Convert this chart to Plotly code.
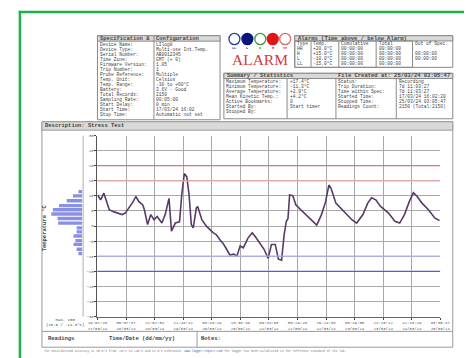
import pandas as pd
import plotly.graph_objects as go

W, H = 472, 358
PAGE_OFFSET = 8  # the page body margin shifts the figure by 8 px

# ---- data ----
start_time = "2024-03-17 16:02:20"
stop_time = "2024-03-25 03:05:47"

hours = [0, 1.65, 3.35, 6.15, 8.65, 12.85, 14.5, 17.0, 18.65, 20.0, 21.65, 23.65,
         24.5, 26.15, 27.85, 29.5, 31.15, 33.65, 35.35, 37.35, 38.65, 40.65, 42.85,
         44.0, 45.35, 46.65, 47.85, 49.0, 50.0, 51.65, 52.35, 54.5, 57.0, 60.35,
         62.0, 64.5, 65.35, 67.0, 69.15, 71.15, 72.85, 74.5, 76.15, 78.65, 80.85,
         82.85, 84.5, 87.0, 89.15, 90.85, 92.85, 94.5, 96.15, 97.5, 98.65, 99.5,
         100.35, 102.0, 103.65, 106.15, 109.5, 114.5, 117.0, 119.15, 120.85, 122.0,
         124.5, 127.0, 129.5, 132.85, 135.35, 138.65, 141.15, 143.15, 145.35,
         147.85, 152.0, 155.35, 157.85, 160.35, 162.85, 165.0, 167.0, 169.5,
         172.85, 176.15, 178.65]
temps = [10.3, 8.7, 10.9, 5.4, 4.7, 3.8, 4.3, 6.5, 8.1, 9.8, 8.1, 7.0,
         5.4, 0.5, 3.8, 2.1, 3.2, 1.0, 3.8, 9.2, -1.7, 1.0, 1.4,
         10.3, 17.4, 16.3, 10.3, 0.5, -0.6, 6.0, 6.5, 2.1, -0.1, -2.2,
         -2.8, -5.0, -5.5, -7.2, -9.6, -9.3, -9.9, -6.6, -7.2, -3.9, -2.2,
         -3.9, -5.5, -7.7, -10.7, -6.1, -6.1, -11.0, -11.3, -2.8, 1.6, 2.5,
         10.3, 10.1, 7.0, 5.4, 3.2, 0.3, 3.8, 8.1, 13.6, 12.5,
         7.6, 6.0, 4.3, 2.1, 1.0, 3.8, 7.6, 9.4, 8.7,
         6.5, 4.3, 1.6, 1.0, 3.8, 8.1, 11.1, 9.8, 7.6,
         5.4, 2.7, 1.8]

hist_bins = [11.4, 10.0, 8.4, 6.8, 5.4, 4.0, 2.5, 1.0, -0.6, -1.9, -3.3, -4.8, -6.1, -7.7, -9.1]
hist_counts = [12, 30, 50, 75, 95, 100, 80, 78, 18, 18, 28, 22, 28, 18, 12]

temp_ticks = [30, 25, 20, 15, 10, 5, 0, -5, -10, -15, -20, -25, -30]
alarm_levels = {"HH": 20, "H": 15, "L": -10, "LL": -15}

spec_labels = ["Device Name:", "Device Type:", "Serial Number:", "Time Zone:",
               "Firmware Version:", "Trip Number:", "Probe Reference:", "Temp. Unit:",
               "Temp. Range:", "Battery:", "Total Records:", "Sampling Rate:",
               "Start Delay:", "Start Time:", "Stop Time:"]
spec_values = ["LIlog8", "Multi-use Int.Temp.", "AB0012345", "GMT (+ 0)", "1.05",
               "1", "Multiple", "Celsius", "-30 to +60°C", "3.6V - Good", "2150",
               "00:05:00", "0 min", "17/03/24 16:02", "Automatic not set"]

alarm_rows = ["HH", "H", "L", "LL"]
alarm_temps = ["+20.0°C", "+15.0°C", "-10.0°C", "-15.0°C"]
alarm_cumul = ["00:00:00", "00:00:00", "00:00:00", "00:00:00"]
alarm_total = ["00:00:00", "00:00:00", "00:00:00", "00:00:00"]
out_of_spec = ["", "00:00:00", "00:00:00", ""]

summary_labels = ["Maximum Temperature:", "Minimum Temperature:", "Average Temperature:",
                  "Mean Kinetic Temp.:", "Active Bookmarks:", "Started By:", "Stopped By:"]
summary_values = ["+17.4°C", "-11.3°C", "+2.9°C", "+4.2°C", "0", "Start timer", ""]
status_labels = ["Status:", "Trip Duration:", "Time within Spec:", "Started Time:",
                 "Stopped Time:", "Readings Count:"]
status_values = ["Recording", "7d 11:03:27", "7d 11:03:27", "17/03/24 16:02:20",
                 "25/03/24 03:05:47", "2150 (Total:2150)"]

led_labels = ["LL", "L", "N", "H", "HH"]
led_colors = ["#2a3a9a", "#0a1580", "#3c9c3c", "#e01515", "#e06a6a"]
led_filled = [False, True, False, True, False]

# ---- helpers (screen pixel -> paper) ----
def px(x):
    return (x - PAGE_OFFSET) / W

def py(y):
    return 1 - (y - PAGE_OFFSET) / H

shapes = []
annotations = []

def box(x0, y0, x1, y1, fill="rgba(0,0,0,0)", color="#8a8a8a", width=1):
    shapes.append(dict(type="rect", xref="paper", yref="paper",
                       x0=px(x0), x1=px(x1), y0=py(y1), y1=py(y0),
                       fillcolor=fill, line=dict(color=color, width=width), layer="below"))

def hline(x0, x1, y, color="#8a8a8a", width=1):
    shapes.append(dict(type="line", xref="paper", yref="paper",
                       x0=px(x0), x1=px(x1), y0=py(y), y1=py(y),
                       line=dict(color=color, width=width)))

def vline(x, y0, y1, color="#8a8a8a", width=1):
    shapes.append(dict(type="line", xref="paper", yref="paper",
                       x0=px(x), x1=px(x), y0=py(y0), y1=py(y1),
                       line=dict(color=color, width=width)))

def text(x, y, s, size=4.6, bold=False, anchor="left", color="#444",
         family="Liberation Mono", angle=0):
    if bold:
        s = "<b>" + s + "</b>"
    annotations.append(dict(x=px(x), y=py(y), xref="paper", yref="paper", text=s,
                            showarrow=False, xanchor=anchor, yanchor="middle",
                            textangle=angle, borderpad=0,
                            font=dict(size=size, color=color, family=family)))

# green outer frame: only the top and left edges are in view
hline(8.8, 480, 10, color="#1db34a", width=2.5)
vline(10, 8.8, 370, color="#1db34a", width=2.5)

# specification & configuration table
box(91, 34, 219, 119)
box(91, 34, 219, 39.5, fill="#d9d9d9")
vline(150, 34, 119)
text(92.5, 36.8, "Specification &", size=5.5, bold=True)
text(151.5, 36.8, "Configuration", size=5.5, bold=True)
for i, (lab, val) in enumerate(zip(spec_labels, spec_values)):
    yy = 42.6 + i * 5.05
    text(92.5, yy, lab)
    text(151.5, yy, val)

# alarm indicators
led_x = [234, 247.5, 261, 274, 287]
for cx, col, filled, lab in zip(led_x, led_colors, led_filled, led_labels):
    shapes.append(dict(type="circle", xref="paper", yref="paper",
                       x0=px(cx - 5.7), x1=px(cx + 5.7), y0=py(43), y1=py(31.6),
                       fillcolor=col if filled else "white", line=dict(color=col, width=1.3)))
    text(cx, 46, lab, size=3.5, bold=True, anchor="center", color=col)
text(260.5, 58.5, "ALARM", size=15.5, anchor="center", color="#d83a3a", family="Liberation Serif")

# alarms table
box(297, 34, 462, 66)
box(297, 34, 462, 39.3, fill="#d9d9d9")
box(297, 39.3, 420, 66)
for xx in [314, 343, 382]:
    vline(xx, 39.3, 66)
text(299, 36.7, "Alarms (Time above / below Alarm)", size=5.5, bold=True)
col_x = [298.5, 315.5, 344.5, 383.5, 422]
for xx, lab in zip(col_x, ["Type", "Temp.", "Cumulative", "Total", "Out of Spec."]):
    text(xx, 41.8, lab)
for i in range(len(alarm_rows)):
    yy = 46.8 + i * 5
    row = [alarm_rows[i], alarm_temps[i], alarm_cumul[i], alarm_total[i], out_of_spec[i]]
    for xx, val in zip(col_x, row):
        text(xx, yy, val)

# summary / statistics table
box(223, 72, 462, 118)
box(223, 72, 462, 77.3, fill="#d9d9d9")
for xx in [289, 340, 403]:
    vline(xx, 77.3, 118)
text(225, 74.7, "Summary / Statistics", size=5.5, bold=True)
text(460, 74.7, "File Created at: 25/03/24 03:05:47", size=5.5, bold=True, anchor="right")
for i, (lab, val) in enumerate(zip(summary_labels, summary_values)):
    yy = 80.3 + i * 5
    text(224.5, yy, lab)
    text(290.5, yy, val)
for i, (lab, val) in enumerate(zip(status_labels, status_values)):
    yy = 80.3 + i * 5
    text(341.5, yy, lab)
    text(404.5, yy, val)

# chart panel frame
box(33, 121, 462, 349, color="#9a9a9a")
box(33, 121, 462, 129.5, fill="#d9d9d9", color="#9a9a9a")
text(35, 125.3, "Description: Stress Test", size=5.5, bold=True)
hline(33, 462, 333, color="#9a9a9a")
vline(195, 333, 349, color="#9a9a9a")
text(53, 340.5, "Readings", size=5.5, bold=True, anchor="center")
text(137, 340.5, "Time/Date (dd/mm/yy)", size=5.5, bold=True, anchor="center")
text(198, 340.5, "Notes:", size=5.5, bold=True)
text(57, 324.5, "Max. 100<br>(16.6 / -11.3°C)", size=4, anchor="center")
text(36, 228, "Temperature °C", size=5.5, bold=True, anchor="center", angle=-90)
vline(76, 135, 318, color="#b0b0b0")
text(34, 352.8, "The uncalibrated accuracy is ±0.5°C from -20°C to +40°C and ±1.0°C otherwise. "
     "<span style='color:#3a5ad0'>www.logger-report.com</span> "
     "The logger has been calibrated to the reference standard of the lab.",
     size=3, color="#777")

# ---- traces ----
times = pd.Timestamp(start_time) + pd.to_timedelta(hours, unit="h")
t0, t1 = pd.Timestamp(start_time), pd.Timestamp(stop_time)
tick_ms = (t1 - t0).total_seconds() * 1000 / 12

alarm_colors = {"HH": "#e06868", "H": "#f0aaaa", "L": "#b0b0ee", "LL": "#5a5ad8"}
for name, lvl in alarm_levels.items():
    shapes.append(dict(type="line", xref="x", yref="y", x0=t0, x1=t1, y0=lvl, y1=lvl,
                       line=dict(color=alarm_colors[name], width=1.2)))

fig = go.Figure()
fig.add_trace(go.Scatter(x=times, y=temps, mode="lines",
                         line=dict(color="#583a68", width=1.6), xaxis="x", yaxis="y"))
fig.add_trace(go.Bar(x=hist_counts, y=hist_bins, orientation="h", width=1.1,
                     marker=dict(color="#8a8fe6", line=dict(width=0)),
                     xaxis="x2", yaxis="y2"))

fig.update_layout(
    width=W, height=H, margin=dict(l=0, r=0, t=0, b=0),
    paper_bgcolor="white", plot_bgcolor="white", showlegend=False,
    shapes=shapes, annotations=annotations,
    xaxis=dict(domain=[px(91), px(449)], anchor="y", type="date", range=[t0, t1],
               tick0=t0, dtick=tick_ms, tickformat="%H:%M:%S<br>%d/%m/%y",
               showgrid=True, gridcolor="#a8a8a8", gridwidth=1,
               showline=True, linecolor="#666", ticks="outside", ticklen=2,
               tickfont=dict(size=4, color="#555", family="Liberation Mono")),
    yaxis=dict(domain=[py(318), py(135)], anchor="x", range=[-30, 30],
               tickvals=temp_ticks, tickformat="+.1f",
               showgrid=True, gridcolor="#a8a8a8", gridwidth=1, zeroline=False,
               showline=True, linecolor="#555", ticks="outside", ticklen=2,
               tickfont=dict(size=4, color="#555", family="Liberation Mono")),
    xaxis2=dict(domain=[px(38), px(75)], anchor="y2", range=[115, 0],
                showgrid=False, showticklabels=False, zeroline=False),
    yaxis2=dict(domain=[py(318), py(135)], anchor="x2", range=[-30, 30],
                showgrid=False, showticklabels=False, zeroline=False),
    bargap=0.2,
)

fig.write_html("out.html")
